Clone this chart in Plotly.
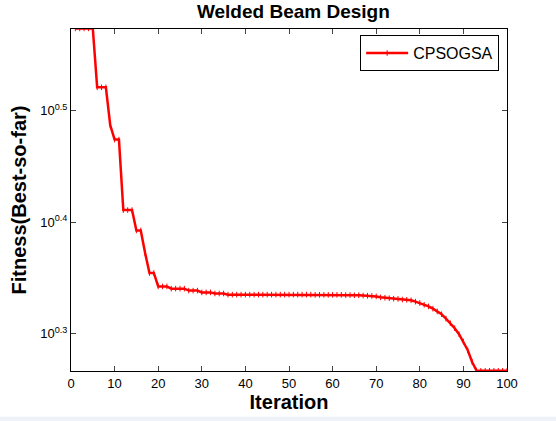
import plotly.graph_objects as go

# best-so-far fitness per iteration
iterations = list(range(1, 101))
fitness = [
    3.75, 3.75, 3.75, 3.75, 3.75, 3.32, 3.32, 3.32, 3.07, 2.98,
    2.98, 2.576, 2.576, 2.576, 2.47, 2.47, 2.357, 2.262, 2.262, 2.200,
    2.200, 2.200, 2.19, 2.19, 2.19, 2.19, 2.181, 2.181, 2.181, 2.173,
    2.173, 2.173, 2.168, 2.168, 2.168, 2.163, 2.163, 2.163, 2.163, 2.163,
    2.163, 2.163, 2.163, 2.163, 2.163, 2.163, 2.163, 2.163, 2.163, 2.163,
    2.163, 2.163, 2.163, 2.163, 2.163, 2.162, 2.162, 2.162, 2.162, 2.162,
    2.162, 2.162, 2.161, 2.161, 2.160, 2.160, 2.159, 2.158, 2.157, 2.155,
    2.151, 2.149, 2.147, 2.145, 2.144, 2.141, 2.140, 2.138, 2.132, 2.126,
    2.118, 2.111, 2.101, 2.089, 2.077, 2.058, 2.039, 2.018, 1.993, 1.963,
    1.928, 1.882, 1.849, 1.848, 1.848, 1.848, 1.848, 1.848, 1.848, 1.848,
]
ytick_vals = [10 ** 0.3, 10 ** 0.4, 10 ** 0.5]
ytick_text = ['10<sup>0.3</sup>', '10<sup>0.4</sup>', '10<sup>0.5</sup>']
xtick_vals = list(range(0, 101, 10))

font = 'Liberation Sans, Arial, sans-serif'

fig = go.Figure()
fig.add_trace(go.Scatter(
    x=iterations, y=fitness, name='CPSOGSA',
    mode='lines+markers',
    line=dict(color='#ff0000', width=2.5),
    marker=dict(symbol='line-ns', size=4, line=dict(color='#ff0000', width=1)),
))

fig.update_layout(
    width=556, height=421,
    margin=dict(l=71, r=49, t=29, b=50),
    paper_bgcolor='white', plot_bgcolor='white',
    font=dict(family=font, color='black', size=13),
    title=dict(text='<b>Welded Beam Design</b>', xref='paper', x=0.51, xanchor='center',
               yref='container', y=0.973, yanchor='middle', font=dict(size=19)),
    legend=dict(x=0.982, y=0.982, xanchor='right', yanchor='top',
                bordercolor='black', borderwidth=1, bgcolor='white',
                itemwidth=42, font=dict(size=16)),
    showlegend=True,
)
fig.update_xaxes(
    range=[0, 100], tickvals=xtick_vals, ticks='inside', ticklen=5,
    showline=True, linecolor='black', linewidth=1, mirror='ticks',
    showgrid=False, zeroline=False, automargin=False,
    title=dict(text='<b>Iteration</b>', font=dict(size=20), standoff=4),
)
fig.update_yaxes(
    type='log', range=[0.2665, 0.5735],
    tickvals=ytick_vals, ticktext=ytick_text, ticks='inside', ticklen=5,
    showline=True, linecolor='black', linewidth=1, mirror='ticks',
    showgrid=False, zeroline=False, automargin=False,
    title=dict(text='<b>Fitness(Best-so-far)</b>', font=dict(size=20), standoff=8),
)
# light strip along the bottom edge of the window
fig.add_shape(type='rect', xref='paper', yref='paper',
              x0=-0.2, x1=1.2, y0=-0.146, y1=-0.134,
              fillcolor='#eef3fa', line=dict(width=0), layer='below')

fig.write_html('out.html', config={'displayModeBar': False},
               post_script="document.body.style.margin='0';")
